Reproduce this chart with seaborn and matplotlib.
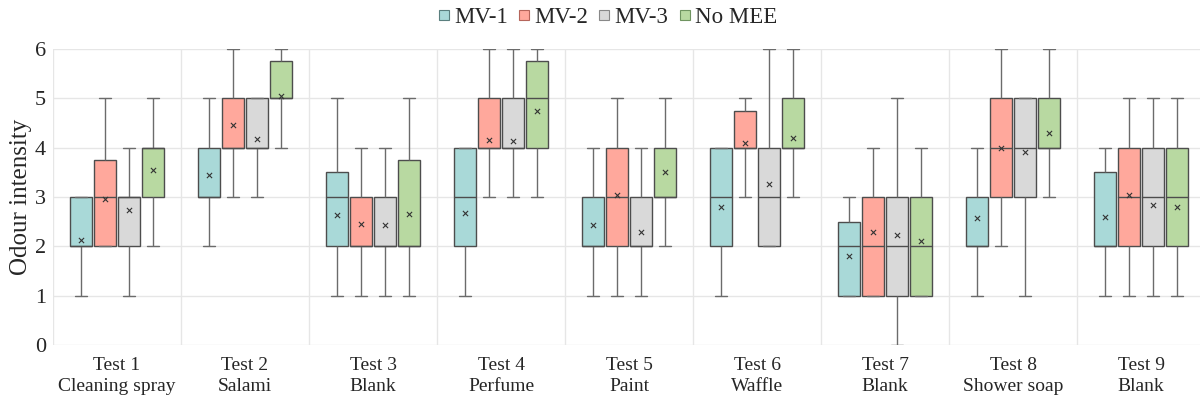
import numpy as np
import pandas as pd
import matplotlib
matplotlib.use("Agg")
import matplotlib.pyplot as plt
from matplotlib.lines import Line2D
import seaborn as sns

# Odour panel results: five-number summaries and means per test and ventilation setup
tests = ["Test 1\nCleaning spray", "Test 2\nSalami", "Test 3\nBlank", "Test 4\nPerfume",
         "Test 5\nPaint", "Test 6\nWaffle", "Test 7\nBlank", "Test 8\nShower soap", "Test 9\nBlank"]
setups = ["MV-1", "MV-2", "MV-3", "No MEE"]

# each entry: [min, q1, median, q3, max] for one test
mv1_stats = [[1, 2, 2, 3, 3], [2, 3, 3, 4, 5], [1, 2, 3, 3.5, 5], [1, 2, 3, 4, 4], [1, 2, 2, 3, 4],
             [1, 2, 3, 4, 4], [1, 1, 2, 2.5, 3], [1, 2, 2, 3, 4], [1, 2, 2, 3.5, 4]]
mv2_stats = [[2, 2, 3, 3.75, 5], [3, 4, 4, 5, 6], [1, 2, 2, 3, 4], [3, 4, 4, 5, 6], [1, 2, 3, 4, 5],
             [3, 4, 4, 4.75, 5], [1, 1, 2, 3, 4], [2, 3, 4, 5, 6], [1, 2, 3, 4, 5]]
mv3_stats = [[1, 2, 3, 3, 4], [3, 4, 4, 5, 5], [1, 2, 2, 3, 4], [3, 4, 4, 5, 6], [1, 2, 2, 3, 4],
             [2, 2, 3, 4, 6], [0, 1, 2, 3, 5], [1, 3, 4, 5, 5], [1, 2, 3, 4, 5]]
nomee_stats = [[2, 3, 4, 4, 5], [4, 5, 5, 5.75, 6], [1, 2, 2, 3.75, 5], [3, 4, 5, 5.75, 6], [2, 3, 3, 4, 5],
               [3, 4, 4, 5, 6], [1, 1, 2, 3, 4], [3, 4, 4, 5, 6], [1, 2, 3, 4, 5]]

mv1_mean = [2.12, 3.44, 2.63, 2.67, 2.43, 2.80, 1.80, 2.57, 2.60]
mv2_mean = [2.95, 4.45, 2.45, 4.15, 3.05, 4.10, 2.30, 4.00, 3.05]
mv3_mean = [2.73, 4.17, 2.43, 4.13, 2.30, 3.27, 2.22, 3.92, 2.83]
nomee_mean = [3.55, 5.05, 2.65, 4.75, 3.50, 4.20, 2.10, 4.30, 2.80]

colors = ["#a9d9d8", "#ffa89c", "#d9d9d9", "#b8d9a1"]
edge_colors = ["#5a7f7e", "#b5655b", "#888888", "#6f9460"]

# long-form table: the five summary values of each box reproduce its quartiles exactly
rows = []
for setup, stats in zip(setups, [mv1_stats, mv2_stats, mv3_stats, nomee_stats]):
    for test, five in zip(tests, stats):
        for v in five:
            rows.append({"Test": test, "Setup": setup, "Score": v})
df = pd.DataFrame(rows)

sns.set_theme(style="white")
plt.rcParams["font.family"] = ["Liberation Serif", "DejaVu Serif"]

fig = plt.figure(figsize=(12, 4.03), dpi=100)
ax = fig.add_axes([53 / 1200, 58 / 403, 1152 / 1200, 296 / 403])

box_width = 0.75
sns.boxplot(data=df, x="Test", y="Score", hue="Setup", order=tests, hue_order=setups,
            palette=colors, saturation=1, width=box_width, gap=0.08, whis=(0, 100), dodge=True,
            linecolor="#4d4d4d", linewidth=1.0, showfliers=False,
            whiskerprops={"color": "#6b6b6b"}, capprops={"color": "#6b6b6b"},
            legend=False, ax=ax, zorder=3)

# mean markers at the dodged box positions
slot = box_width / len(setups)
for j, means in enumerate([mv1_mean, mv2_mean, mv3_mean, nomee_mean]):
    xs = np.arange(len(tests)) + (j - (len(setups) - 1) / 2) * slot
    ax.scatter(xs, means, marker="x", s=14, color="#333333", linewidths=0.8, zorder=5)

ax.set_ylim(0, 6)
ax.set_xlim(-0.5, len(tests) - 0.5)
ax.set_yticks(range(0, 7))
ax.set_xticks(np.arange(len(tests)) - 0.5, minor=True)
ax.grid(axis="y", which="major", color="#e6e6e6", linewidth=1.0, zorder=0)
ax.grid(axis="x", which="minor", color="#e6e6e6", linewidth=1.0, zorder=0)
ax.grid(axis="x", which="major", visible=False)
ax.set_axisbelow(True)
for s in ax.spines.values():
    s.set_visible(False)

ax.tick_params(axis="both", which="both", length=0)
ax.tick_params(axis="y", labelsize=16, pad=5)
ax.tick_params(axis="x", labelsize=14, pad=9)
for lbl in ax.get_xticklabels():
    lbl.set_linespacing(1.3)
ax.set_xlabel("")
ax.set_ylabel("Odour intensity", fontsize=18, labelpad=2)

handles = [Line2D([], [], marker="s", linestyle="none", markersize=7,
                  markerfacecolor=c, markeredgecolor=e, markeredgewidth=0.8)
           for c, e in zip(colors, edge_colors)]
fig.legend(handles, setups, loc="upper center", bbox_to_anchor=(0.505, 1.035), ncol=4,
           frameon=False, fontsize=16.5, handletextpad=0.05, columnspacing=0.3,
           handlelength=0.8)

fig.savefig("out.png", dpi=100)
